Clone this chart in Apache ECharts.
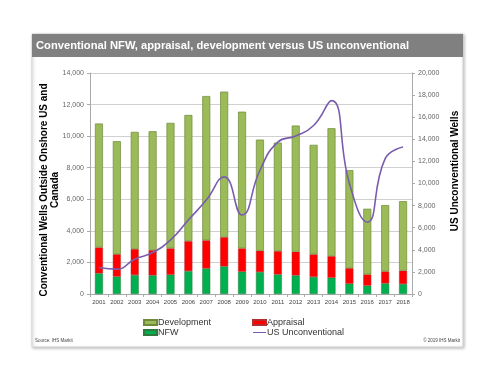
<!DOCTYPE html>
<html><head><meta charset="utf-8">
<script src="https://cdn.jsdelivr.net/npm/echarts@6/dist/echarts.min.js"></script>
<style>html,body{margin:0;padding:0;background:#fff}#c{width:500px;height:387px}</style>
</head><body><div id="c"></div>
<script>
const years = ['2001','2002','2003','2004','2005','2006','2007','2008','2009','2010','2011','2012','2013','2014','2015','2016','2017','2018'];
const nfw = [1310,1100,1200,1180,1220,1450,1620,1750,1410,1390,1240,1180,1080,1030,650,530,670,630];
const appraisal = [1640,1420,1650,1600,1670,1900,1780,1850,1480,1350,1480,1500,1430,1370,990,710,760,850];
const development = [7850,7160,7420,7530,7950,7990,9140,9220,8660,7040,6870,7990,6940,8100,6200,4160,4200,4400];
const usUnconventional = [2400,2250,3150,3750,4900,6700,8500,10600,7150,11200,13750,14300,15250,17500,10000,6500,12250,13300];
const leftTicks = [0,2000,4000,6000,8000,10000,12000,14000];
const rightTicks = [0,2000,4000,6000,8000,10000,12000,14000,16000,18000,20000];

const chart = echarts.init(document.getElementById('c'));
const F = 'Liberation Sans, Arial, sans-serif';
const legendText = {fontSize:9, color:'#333', fontFamily:F, padding:[0,0,0,-4]};
chart.setOption({
  animation: false,
  textStyle: {fontFamily: F},
  graphic: [
    {type:'rect', shape:{x:32,y:34,width:431,height:313}, style:{fill:'#fff', stroke:'#d4d4d4', lineWidth:1, shadowBlur:3, shadowColor:'rgba(0,0,0,0.25)', shadowOffsetX:1, shadowOffsetY:1}, z:-10},
    {type:'rect', shape:{x:32,y:34,width:431,height:23}, style:{fill:'#808080'}, z:-5},
    {type:'text', x:36, y:45.5, style:{text:'Conventional NFW, appraisal, development versus US unconventional', fill:'#fff', font:'bold 11.2px '+F, textVerticalAlign:'middle'}},
    {type:'text', x:50, y:190, rotation:Math.PI/2, style:{text:'Conventional Wells Outside Onshore US and\nCanada', fill:'#000', font:'bold 10px '+F, lineHeight:11, textAlign:'center', textVerticalAlign:'middle'}},
    {type:'text', x:35, y:341, style:{text:'Source: IHS Markit', fill:'#444', font:'4.5px '+F, textVerticalAlign:'middle'}},
    {type:'text', x:460, y:341, style:{text:'© 2019 IHS Markit', fill:'#444', font:'4.5px '+F, textAlign:'right', textVerticalAlign:'middle'}}
  ],
  grid: {left:90, right:88, top:73, bottom:93},
  legend: [
    {left:143, top:318, orient:'vertical', itemWidth:13, itemHeight:5, itemGap:1, padding:0, textStyle:legendText,
     data:[{name:'Development', icon:'rect'},{name:'NFW', icon:'rect'}]},
    {left:252, top:318, orient:'vertical', itemWidth:13, itemHeight:5, itemGap:1, padding:0, textStyle:legendText,
     data:[{name:'Appraisal', icon:'rect'},{name:'US Unconventional', icon:'path://M0,4.5L13,4.5L13,5.5L0,5.5Z'}]}
  ],
  xAxis: {
    type:'category', data:years,
    axisLine:{lineStyle:{color:'#aaa'}},
    axisTick:{show:true, alignWithLabel:false, length:3, lineStyle:{color:'#aaa'}},
    axisLabel:{fontSize:6, color:'#444', margin:5, interval:0}
  },
  yAxis: [
    {type:'value', min:0, max:14000, interval:2000,
     axisLine:{show:true, lineStyle:{color:'#aaa'}}, axisTick:{show:true, length:3, lineStyle:{color:'#aaa'}},
     axisLabel:{fontSize:7, color:'#666', margin:6, formatter:v=>v.toLocaleString('en-US')},
     splitLine:{lineStyle:{color:'#d0d0d0'}}},
    {type:'value', min:0, max:20000, interval:2000, position:'right',
     name:'US Unconventional Wells', nameLocation:'middle', nameGap:38, nameRotate:90,
     nameTextStyle:{fontSize:10, fontWeight:'bold', color:'#000', padding:[0,0,0,25]},
     axisLine:{show:true, lineStyle:{color:'#aaa'}}, axisTick:{show:true, length:3, lineStyle:{color:'#aaa'}},
     axisLabel:{fontSize:7, color:'#666', margin:6},
     splitLine:{show:false}}
  ],
  series: [
    {name:'NFW', type:'bar', stack:'w', data:nfw, barWidth:8, itemStyle:{color:'#00B050', borderColor:'#2f7a3a', borderWidth:0.5}},
    {name:'Appraisal', type:'bar', stack:'w', data:appraisal, barWidth:8, itemStyle:{color:'#FF0000', borderColor:'#b03030', borderWidth:0.5}},
    {name:'Development', type:'bar', stack:'w', data:development, barWidth:8, itemStyle:{color:'#9BBB59', borderColor:'#6e8a3a', borderWidth:0.7}},
    {name:'US Unconventional', type:'line', yAxisIndex:1, data:usUnconventional, smooth:0.5, symbol:'none', lineStyle:{color:'#7a5cad', width:1.6}, itemStyle:{color:'#7a5cad'}, z:5}
  ]
});
</script></body></html>
